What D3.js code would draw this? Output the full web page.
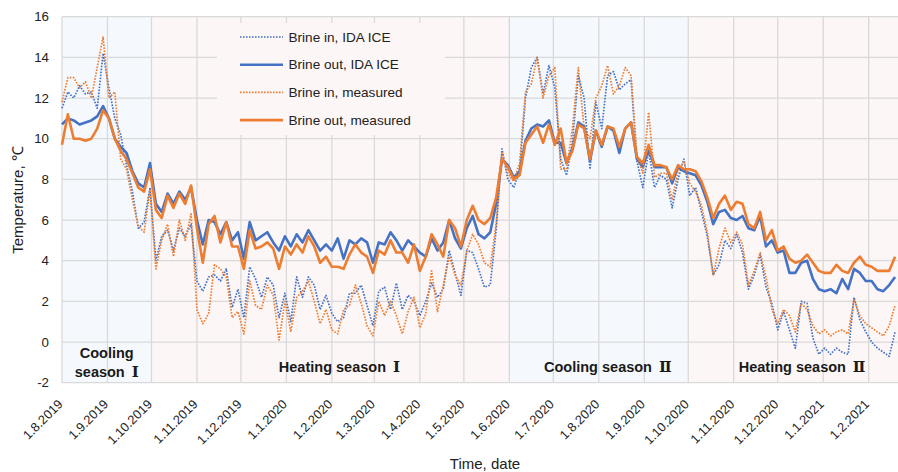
<!DOCTYPE html>
<html>
<head>
<meta charset="utf-8">
<script src="https://cdn.jsdelivr.net/npm/d3@7"></script>
<style>
body { margin: 0; background: #fff; }
svg { display: block; font-family: "Liberation Sans", Arial, sans-serif; }
</style>
</head>
<body>
<div id="chart"></div>
<script>
// daily values, one sample every 4 days from 1.8.2019
var firstDay = "1.8.2019", lastDay = "21.2.2021", stepDays = 4;

var brineInIda = [11.5,12.3,12.0,12.6,12.2,12.3,11.5,14.2,12.5,11.0,10.2,8.7,7.4,5.6,5.9,7.6,
	4.0,5.2,5.5,4.5,5.6,5.2,5.8,3.0,
	2.5,3.2,3.3,3.0,3.6,1.7,2.6,1.2,3.7,3.1,2.2,3.2,2.8,1.2,2.4,1.0,3.2,2.2,3.2,2.8,1.6,2.3,1.4,
	1.0,1.2,2.4,2.4,2.8,1.8,0.8,2.5,2.7,1.6,2.9,1.6,2.3,2.0,1.3,2.0,2.9,2.2,2.6,4.5,3.4,2.3,4.5,4.4,3.6,2.7,2.8,5.5,
	9.5,8.0,7.6,8.4,12.0,13.5,14.0,12.2,13.6,12.5,9.0,8.2,9.8,13.1,12.0,8.5,11.8,10.5,13.1,13.3,
	12.4,12.7,12.9,8.9,7.6,9.4,7.6,8.2,8.0,6.6,8.0,9.0,7.2,7.6,6.4,5.2,3.3,3.8,5.0,4.6,5.3,4.4,2.6,
	3.3,4.3,2.7,1.9,0.6,1.5,0.6,-0.3,2.0,1.9,0.2,-0.6,-0.3,-0.6,-0.3,-0.5,-0.6,2.2,1.1,0.5,0.0,-0.3,-0.5,-0.7,0.5];

var brineOutIda = [10.7,11.0,10.9,10.7,10.8,10.9,11.1,11.6,11.0,10.0,9.6,9.3,8.4,7.8,7.6,8.8,
	6.8,6.4,7.3,6.8,7.4,7.0,7.6,6.0,
	4.8,6.0,5.9,5.3,5.9,5.0,5.4,4.1,5.9,5.0,5.2,5.4,4.9,4.5,5.2,4.7,5.3,4.9,5.5,5.0,4.5,4.8,4.5,
	5.1,4.1,5.0,4.8,5.1,4.9,3.9,4.9,4.8,5.4,5.0,4.5,5.0,4.7,4.4,4.2,5.1,4.5,4.9,6.0,5.1,4.6,5.6,6.2,5.3,5.1,5.4,6.8,
	9.0,8.7,8.1,8.4,9.9,10.5,10.7,10.6,10.9,9.8,9.8,8.8,9.5,10.8,10.6,8.9,10.4,9.6,10.6,10.4,
	9.3,10.5,10.8,9.0,8.6,9.5,8.6,8.6,8.6,7.8,8.6,8.4,8.3,8.2,7.7,6.9,5.8,6.4,6.5,6.1,6.0,6.2,5.6,
	5.5,6.2,4.7,5.0,4.4,4.5,3.4,3.4,3.9,4.0,3.1,2.6,2.5,2.6,2.4,3.1,2.6,3.6,3.4,3.0,3.0,2.6,2.5,2.8,3.2];

var brineInMeasured = [11.8,13.0,13.0,12.5,12.8,12.0,13.5,15.0,12.0,12.3,9.0,8.5,7.0,5.7,5.4,7.5,
	3.6,5.0,5.8,4.2,6.0,5.0,6.3,1.6,
	0.9,1.4,3.8,3.6,3.2,1.2,1.5,0.4,3.0,1.8,1.6,2.8,2.3,0.1,2.0,0.5,2.2,2.5,3.0,2.0,0.9,1.6,0.6,
	0.4,1.6,1.8,2.8,1.9,0.8,0.3,2.0,1.3,2.0,1.3,0.4,1.5,2.2,0.7,1.4,3.5,1.5,2.8,4.2,3.3,2.8,4.5,5.3,4.8,3.9,3.7,5.8,
	9.3,8.3,7.9,8.8,12.3,12.7,14.0,12.0,13.1,13.5,8.5,8.5,10.5,13.5,10.5,10.0,12.0,12.6,13.6,12.2,
	12.6,13.5,13.1,9.2,8.3,11.3,8.1,8.3,8.3,7.0,8.4,8.9,7.8,7.4,6.7,5.4,3.3,4.6,5.6,4.9,5.4,4.8,2.8,
	3.5,4.4,3.2,1.6,0.9,1.6,1.3,0.5,1.9,1.6,0.8,0.4,0.6,0.3,0.5,0.6,0.4,2.1,1.3,0.9,0.7,0.5,0.3,0.8,1.8];

var brineOutMeasured = [9.7,11.2,10.0,10.0,9.9,10.0,10.5,11.4,11.0,10.0,9.4,9.0,8.3,7.6,7.4,8.5,
	6.5,6.1,7.2,6.6,7.3,6.8,7.7,5.6,
	3.9,5.8,6.2,4.9,5.9,4.7,4.7,3.6,5.5,4.6,4.7,4.9,4.6,3.6,4.7,4.3,4.8,4.4,5.2,4.7,3.9,4.2,3.7,
	3.7,3.6,4.3,4.8,4.4,4.2,3.4,4.5,4.3,5.0,4.4,4.4,3.9,4.8,3.5,4.2,5.3,4.8,4.2,6.0,5.6,4.7,6.0,6.7,6.0,5.8,6.1,7.1,
	9.0,8.6,8.0,8.2,9.8,10.2,10.6,9.8,10.7,9.7,10.5,8.8,9.4,10.7,10.5,9.0,10.4,9.7,10.6,10.5,
	9.6,10.5,10.8,9.1,8.8,9.7,8.7,8.7,8.6,8.0,8.7,8.5,8.5,8.4,7.9,7.1,6.1,6.8,7.2,6.5,6.9,6.8,5.8,
	5.6,6.4,5.0,5.5,4.5,4.7,4.1,3.9,4.0,4.3,3.9,3.5,3.4,3.4,3.8,3.5,3.4,3.9,4.2,3.8,3.7,3.5,3.5,3.5,4.2];

var seriesNames = ["Brine in, IDA ICE", "Brine out, IDA ICE", "Brine in, measured", "Brine out, measured"];
var seriesValues = [brineInIda, brineOutIda, brineInMeasured, brineOutMeasured];

var monthTicks = ["1.8.2019","1.9.2019","1.10.2019","1.11.2019","1.12.2019","1.1.2020","1.2.2020",
	"1.3.2020","1.4.2020","1.5.2020","1.6.2020","1.7.2020","1.8.2020","1.9.2020","1.10.2020",
	"1.11.2020","1.12.2020","1.1.2021","1.2.2021"];
var yTicks = [-2, 0, 2, 4, 6, 8, 10, 12, 14, 16];

// [first line, second line, roman numeral]
var seasonNames = [["Cooling", "season", "\u2160"], ["Heating season", null, "\u2160"], ["Cooling season", null, "\u2161"], ["Heating season", null, "\u2161"]];
var seasonStarts = ["1.8.2019", "1.10.2019", "1.6.2020", "1.10.2020"];
var seasonKinds = ["cooling", "heating", "cooling", "heating"];

var W = 898, H = 472;
var margin = {left: 62, right: 0, top: 16.7, bottom: 89.3};
var parse = d3.timeParse("%d.%m.%Y");
var fmt = d3.timeFormat("%-d.%-m.%Y");

var t0 = parse(firstDay), t1 = parse(lastDay);
var dates = seriesValues[0].map(function (d, i) { return d3.timeDay.offset(t0, i * stepDays); });

var x = d3.scaleTime().domain([t0, t1]).range([margin.left, W - margin.right]);
var y = d3.scaleLinear().domain([-2, 16]).range([H - margin.bottom, margin.top]);

var svg = d3.select("#chart").append("svg").attr("width", W).attr("height", H);

var fills = {cooling: "#f5f9fd", heating: "#fdf6f6"};
var seasons = seasonStarts.map(function (s, i) {
	return {start: parse(s), end: i < seasonStarts.length - 1 ? parse(seasonStarts[i + 1]) : t1, kind: seasonKinds[i], name: seasonNames[i]};
});

svg.selectAll("rect.season").data(seasons).enter().append("rect")
	.attr("class", "season")
	.attr("x", function (d) { return x(d.start); })
	.attr("width", function (d) { return x(d.end) - x(d.start); })
	.attr("y", y(16)).attr("height", y(-2) - y(16))
	.attr("fill", function (d) { return fills[d.kind]; });

// grid
var tickDates = monthTicks.map(parse);
svg.append("g").selectAll("line").data(tickDates).enter().append("line")
	.attr("x1", function (d) { return x(d); }).attr("x2", function (d) { return x(d); })
	.attr("y1", y(16)).attr("y2", y(-2))
	.attr("stroke", "#d9d9d9").attr("stroke-width", 1.3);
svg.append("g").selectAll("line").data(yTicks).enter().append("line")
	.attr("x1", margin.left).attr("x2", W)
	.attr("y1", function (d) { return y(d); }).attr("y2", function (d) { return y(d); })
	.attr("stroke", "#d9d9d9").attr("stroke-width", 1.3);

// legend box hides the grid under it
svg.append("rect").attr("x", 217).attr("y", 23).attr("width", 228).attr("height", 112).attr("fill", fills.heating);

// season labels
svg.selectAll("text.season").data(seasons).enter().append("text")
	.attr("class", "season")
	.attr("text-anchor", "middle")
	.attr("font-weight", "bold").attr("font-size", 14.5).attr("fill", "#1a1a1a")
	.each(function (d, i) {
		var two = d.name[1] !== null;
		var cx = (x(d.start) + x(d.end)) / 2 + (two ? 0 : 9);
		var el = d3.select(this);
		if (two) {
			el.append("tspan").attr("x", cx).attr("y", 358).text(d.name[0]);
			el.append("tspan").attr("x", cx).attr("y", 376.5).text(d.name[1] + " \u2009");
		} else {
			el.append("tspan").attr("x", cx).attr("y", 372).text(d.name[0] + " \u2009");
		}
		el.append("tspan").attr("font-family", "'DejaVu Serif', serif")
			.attr("font-weight", "bold").attr("font-size", 15).text(d.name[2]);
	});

// y axis labels
svg.append("g").selectAll("text").data(yTicks).enter().append("text")
	.attr("x", 49).attr("y", function (d) { return y(d); }).attr("dy", "0.35em")
	.attr("text-anchor", "end").attr("font-size", 13.3).attr("fill", "#222")
	.text(function (d) { return d; });

// x axis labels, rotated
svg.append("g").selectAll("text").data(tickDates).enter().append("text")
	.attr("transform", function (d) { return "translate(" + (x(d) + 1.5) + ",405) rotate(-45)"; })
	.attr("text-anchor", "end").attr("font-size", 12.8).attr("fill", "#222")
	.text(function (d) { return fmt(d); });

svg.append("text").attr("x", 485).attr("y", 469).attr("text-anchor", "middle")
	.attr("font-size", 15).attr("fill", "#222").text("Time, date");
svg.append("text").attr("transform", "translate(22.5,200) rotate(-90)").attr("text-anchor", "middle")
	.attr("font-size", 15).attr("fill", "#222").text("Temperature, \u2103");

// series
var colors = ["#4472c4", "#4472c4", "#ed7d31", "#ed7d31"];
var dashed = [true, false, true, false];
var line = d3.line().x(function (d, i) { return x(dates[i]); }).y(function (d) { return y(d); });

seriesValues.forEach(function (vals, k) {
	svg.append("path").datum(vals)
		.attr("d", line)
		.attr("fill", "none")
		.attr("stroke", colors[k])
		.attr("stroke-width", dashed[k] ? 1.7 : 2.6)
		.attr("stroke-dasharray", dashed[k] ? "1.6,1.4" : null)
		.attr("stroke-linejoin", "round");
});

// legend
var legend = svg.append("g").selectAll("g").data(seriesNames).enter().append("g")
	.attr("transform", function (d, i) { return "translate(240," + (37 + i * 27.7) + ")"; });
legend.append("line").attr("x1", 0).attr("x2", 43).attr("y1", 0).attr("y2", 0)
	.attr("stroke", function (d, i) { return colors[i]; })
	.attr("stroke-width", function (d, i) { return dashed[i] ? 1.7 : 2.6; })
	.attr("stroke-dasharray", function (d, i) { return dashed[i] ? "1.6,1.4" : null; });
legend.append("text").attr("x", 48.5).attr("dy", "0.35em")
	.attr("font-size", 13.6).attr("fill", "#222")
	.text(function (d) { return d; });
</script>
</body>
</html>
